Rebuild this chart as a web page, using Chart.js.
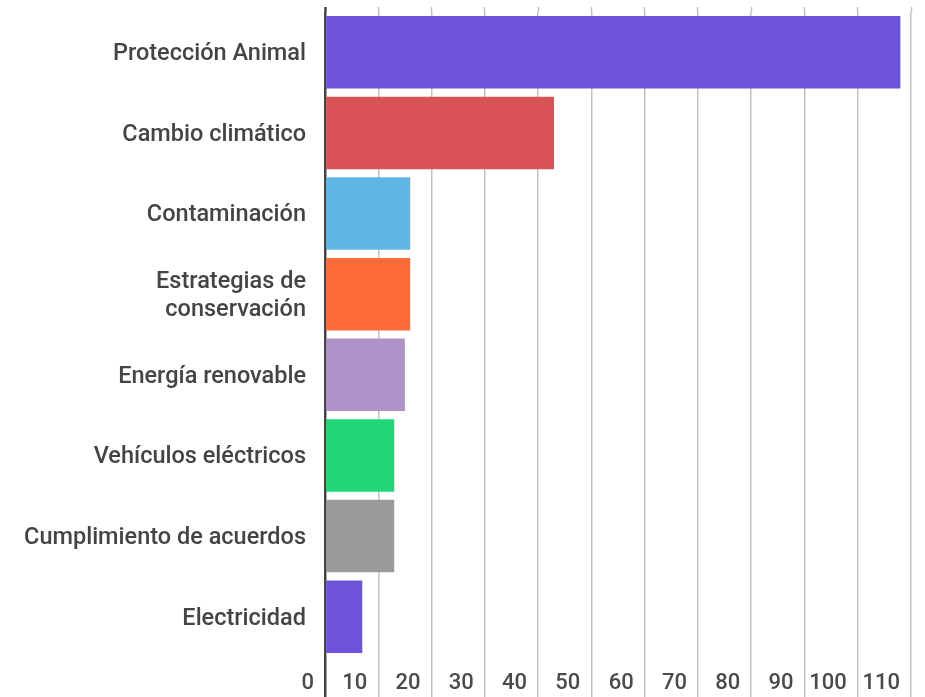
<!DOCTYPE html>
<html>
<head>
<meta charset="utf-8">
<script src="https://cdn.jsdelivr.net/npm/chart.js@4/dist/chart.umd.min.js"></script>
<style>
  html, body { margin: 0; padding: 0; background: #fff; }
  #wrap { width: 925px; height: 697px; }
</style>
</head>
<body>
<div id="wrap"><canvas id="chart"></canvas></div>
<script>
// Data
const categories = [
    'Protección Animal',
    'Cambio climático',
    'Contaminación',
    ['Estrategias de', 'conservación'],
    'Energía renovable',
    'Vehículos eléctricos',
    'Cumplimiento de acuerdos',
    'Electricidad'
];
const counts = [108, 43, 16, 16, 15, 13, 13, 7];
const barColors = ['#6c53d9', '#d95357', '#5fb6e4', '#ff6b38', '#ae92c8', '#20d677', '#9a9a9a', '#6c53d9'];
const xTicks = [0, 10, 20, 30, 40, 50, 60, 70, 80, 90, 100, 110];

const gridColor = ctx => ctx.tick && ctx.tick.value === 0 ? '#444444' : '#c2c2c2';
const gridWidth = ctx => ctx.tick && ctx.tick.value === 0 ? 2.5 : 1.5;

const ctx = document.getElementById('chart').getContext('2d');
const chart = new Chart(ctx, {
    type: 'bar',
    data: {
        labels: categories,
        datasets: [{
            data: counts,
            backgroundColor: barColors,
            borderWidth: 0,
            barPercentage: 0.9,
            categoryPercentage: 1
        }]
    },
    options: {
        indexAxis: 'y',
        responsive: true,
        maintainAspectRatio: false,
        animation: false,
        layout: { padding: { left: 0, right: 14, top: 0, bottom: 0 } },
        plugins: {
            legend: { display: false },
            tooltip: { enabled: false }
        },
        scales: {
            x: {
                type: 'linear',
                position: 'bottom',
                min: 0,
                max: 110,
                afterBuildTicks: scale => { scale.ticks = xTicks.map(v => ({ value: v })); },
                afterFit: scale => {
                    scale.height = 40;
                    scale.paddingLeft = 0;
                    scale.paddingRight = 0;
                },
                border: { display: false },
                grid: {
                    color: gridColor,
                    lineWidth: gridWidth,
                    drawTicks: true,
                    tickLength: 40,
                    tickColor: gridColor,
                    tickWidth: gridWidth
                },
                ticks: {
                    align: 'end',
                    labelOffset: -11,
                    padding: -27,
                    maxRotation: 0,
                    autoSkip: false,
                    color: '#4a4a4a',
                    font: { family: 'Roboto', size: 22, weight: '500', lineHeight: 1.2 }
                }
            },
            x2: {
                type: 'linear',
                position: 'top',
                min: 0,
                max: 110,
                afterBuildTicks: scale => { scale.ticks = xTicks.map(v => ({ value: v })); },
                afterFit: scale => {
                    scale.height = 12;
                    scale.paddingLeft = 0;
                    scale.paddingRight = 0;
                },
                border: { display: false },
                grid: {
                    drawOnChartArea: false,
                    drawTicks: true,
                    tickLength: 5,
                    tickColor: gridColor,
                    tickWidth: gridWidth
                },
                ticks: { display: false }
            },
            y: {
                afterFit: scale => {
                    scale.width = 325;
                    scale.paddingTop = 0;
                    scale.paddingBottom = 0;
                },
                border: { display: false },
                grid: { display: false, drawTicks: false },
                ticks: {
                    padding: 19,
                    labelOffset: 2,
                    color: '#444444',
                    font: { family: 'Roboto', size: 23.5, weight: '500', lineHeight: 1.18 }
                }
            }
        }
    }
});
</script>
</body>
</html>
